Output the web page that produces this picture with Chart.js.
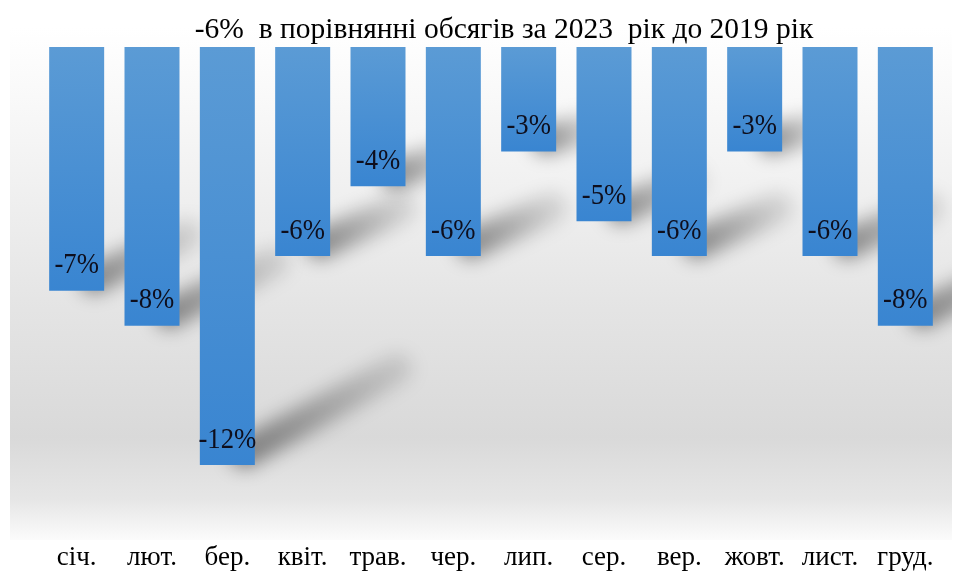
<!DOCTYPE html>
<html>
<head>
<meta charset="utf-8">
<script src="https://cdn.jsdelivr.net/npm/chart.js@4/dist/chart.umd.min.js"></script>
<style>
  html, body { margin: 0; padding: 0; background: #fff; }
  #wrap { width: 962px; height: 581px; }
</style>
</head>
<body>
<div id="wrap"><canvas id="chart"></canvas></div>
<script>
// місяці та зміна обсягів 2023 до 2019, %
var months = ['січ.', 'лют.', 'бер.', 'квіт.', 'трав.', 'чер.', 'лип.', 'сер.', 'вер.', 'жовт.', 'лист.', 'груд.'];
var changes = [-7, -8, -12, -6, -4, -6, -3, -5, -6, -3, -6, -8];
var titleText = '-6%  в порівнянні обсягів за 2023  рік до 2019 рік';

var serif = '"Liberation Serif", "Times New Roman", serif';

// рамка сірого фону
var panel = { left: 10, top: 28, right: 952, bottom: 540 };

// сірий градієнтний фон під областю побудови
var backdrop = {
  id: 'backdrop',
  beforeDraw: function(chart) {
    var c = chart.ctx;
    c.save();
    c.fillStyle = '#ffffff';
    c.fillRect(0, 0, chart.width, chart.height);
    var g = c.createLinearGradient(0, panel.top, 0, panel.bottom);
    g.addColorStop(0, '#ffffff');
    g.addColorStop(0.2, '#f6f6f6');
    g.addColorStop(0.55, '#e4e4e4');
    g.addColorStop(0.8, '#d9d9d9');
    g.addColorStop(0.92, '#e6e6e6');
    g.addColorStop(1, '#fbfbfb');
    c.fillStyle = g;
    c.fillRect(panel.left, panel.top, panel.right - panel.left, panel.bottom - panel.top);
    c.restore();
  }
};

// заголовок трохи правіше від центру, як у вихідній діаграмі
var headline = {
  id: 'headline',
  afterDraw: function(chart) {
    var c = chart.ctx;
    c.save();
    c.font = '29.5px ' + serif;
    c.fillStyle = '#000000';
    c.textAlign = 'center';
    c.textBaseline = 'middle';
    c.fillText(titleText, 504, 30);
    c.restore();
  }
};

// розмиті косі тіні від кінців стовпців
var barShadows = {
  id: 'barShadows',
  beforeDatasetsDraw: function(chart) {
    var c = chart.ctx;
    var meta = chart.getDatasetMeta(0);
    c.save();
    c.beginPath();
    c.rect(panel.left, panel.top, panel.right - panel.left, panel.bottom - panel.top);
    c.clip();
    c.filter = 'blur(9px)';
    c.lineCap = 'round';
    meta.data.forEach(function(bar) {
      var h = bar.y - bar.base;
      var x0 = bar.x + bar.width / 2 - 10;
      var y0 = bar.y - 12;
      var x1 = bar.x + bar.width / 2 + 0.34 * h;
      var y1 = bar.y - 0.23 * h;
      var g = c.createLinearGradient(x0, y0, x1, y1);
      g.addColorStop(0, 'rgba(0,0,0,0.42)');
      g.addColorStop(1, 'rgba(0,0,0,0.12)');
      c.strokeStyle = g;
      c.lineWidth = 30;
      c.beginPath();
      c.moveTo(x0, y0);
      c.lineTo(x1, y1);
      c.stroke();
    });
    c.restore();
  }
};

// підписи значень біля кінця стовпця
var valueLabels = {
  id: 'valueLabels',
  afterDatasetsDraw: function(chart) {
    var c = chart.ctx;
    var meta = chart.getDatasetMeta(0);
    c.save();
    c.font = '29px ' + serif;
    c.fillStyle = '#0e0e1c';
    c.textAlign = 'center';
    c.textBaseline = 'middle';
    meta.data.forEach(function(bar, i) {
      c.save();
      c.translate(bar.x, bar.y - 25);
      c.scale(0.92, 1);
      c.fillText(changes[i] + '%', 0, 0);
      c.restore();
    });
    c.restore();
  }
};

new Chart(document.getElementById('chart'), {
  type: 'bar',
  data: {
    labels: months,
    datasets: [{
      data: changes,
      backgroundColor: function(ctx) {
        var chart = ctx.chart;
        if (!chart.chartArea || !chart.scales.y) return '#4a90d6';
        var y = chart.scales.y;
        var top = y.getPixelForValue(0);
        var bot = y.getPixelForValue(ctx.raw);
        var g = chart.ctx.createLinearGradient(0, top, 0, bot);
        g.addColorStop(0, '#5b9bd5');
        g.addColorStop(1, '#3985d1');
        return g;
      },
      borderWidth: 0,
      barPercentage: 0.73,
      categoryPercentage: 1
    }]
  },
  options: {
    responsive: true,
    maintainAspectRatio: false,
    animation: false,
    layout: { padding: { left: 39, right: 19, top: 47, bottom: 0 } },
    plugins: {
      legend: { display: false },
      tooltip: { enabled: false },
      title: { display: false }
    },
    scales: {
      x: {
        grid: { display: false, drawTicks: false, tickLength: 0 },
        border: { display: false },
        ticks: {
          color: '#000000',
          font: { family: serif, size: 27 },
          padding: 7,
          autoSkip: false,
          maxRotation: 0
        }
      },
      y: {
        display: false,
        min: -14,
        max: 0
      }
    }
  },
  plugins: [backdrop, barShadows, valueLabels, headline]
});
</script>
</body>
</html>
